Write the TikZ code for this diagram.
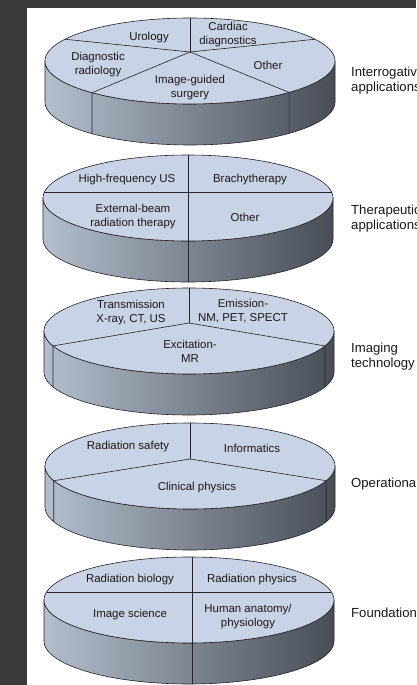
\documentclass[tikz,border=0pt]{standalone}
\usepackage{fontspec}
\setmainfont{Liberation Sans}
\definecolor{bgdark}{RGB}{58,58,58}
\definecolor{topc}{RGB}{201,211,229}
\definecolor{sideL}{RGB}{180,190,205}
\definecolor{sideR}{RGB}{72,77,86}
\definecolor{edge}{RGB}{35,35,40}
\tikzset{
  lab/.style={align=center, inner sep=0pt, font=\fontsize{11.5}{14}\selectfont, text=black!90},
  rlab/.style={anchor=west, align=left, inner sep=0pt, font=\fontsize{13.2}{15}\selectfont, text=black!90},
  pieline/.style={draw=edge, line width=0.6bp},
}
\newcommand\pdisc[2]{%
  \shadedraw[left color=sideL, right color=sideR, draw=edge, line width=0.6bp]
    plot[domain=180:360,samples=73] ({#1+145*cos(\x)},{#2-43*sin(\x)})
    -- plot[domain=360:180,samples=73] ({#1+145*cos(\x)},{#2+41-43*sin(\x)}) -- cycle;
  \filldraw[fill=topc, draw=edge, line width=0.6bp]
    plot[domain=0:360,samples=145] ({#1+145*cos(\x)},{#2-43*sin(\x)}) -- cycle;
}
\begin{document}
\begin{tikzpicture}[x=1bp,y=-1bp,line join=round]
\useasboundingbox (0,0) rectangle (416,685);
\clip (0,0) rectangle (416,685);
\fill[bgdark] (0,0) rectangle (416,685);
\fill[white] (27,8) rectangle (416,685);

% ---------- Disc 1: Interrogative applications ----------
\pdisc{190}{61}
\coordinate (d1c) at (190,52);
\coordinate (d1t) at (190,18);
\coordinate (d1ur) at ({190+145*cos(30.4)},{61-43*sin(30.4)});
\coordinate (d1ul) at ({190+145*cos(149.6)},{61-43*sin(149.6)});
\coordinate (d1ll) at ({190+145*cos(227.5)},{61-43*sin(227.5)});
\coordinate (d1llb) at ({190+145*cos(227.5)},{61+41-43*sin(227.5)});
\coordinate (d1lr) at ({190+145*cos(313.1)},{61-43*sin(313.1)});
\coordinate (d1lrb) at ({190+145*cos(313.1)},{61+41-43*sin(313.1)});
\draw[pieline] (d1c) -- (d1t);
\draw[pieline] (d1c) -- (d1ur);
\draw[pieline] (d1c) -- (d1ul);
\draw[pieline] (d1c) -- (d1ll) -- (d1llb);
\draw[pieline] (d1c) -- (d1lr) -- (d1lrb);
\node[lab] (uro) at (149,38) {Urology};
\node[lab] (card) at (228,35) {Cardiac\\diagnostics};
\node[lab] (diag) at (98,65) {Diagnostic\\radiology};
\node[lab] (oth1) at (268,65) {Other};
\node[lab] (igs) at (190,88) {Image-guided\\surgery};
\node[rlab] (interr) at (351,80.5) {Interrogative\\applications};

% ---------- Disc 2: Therapeutic applications ----------
\pdisc{188}{198}
\coordinate (d2t) at (188,155);
\coordinate (d2b) at (188,282);
\coordinate (d2l) at ({188-145*cos(8)},192);
\coordinate (d2r) at ({188+145*cos(8)},192);
\draw[pieline] (d2t) -- (d2b);
\draw[pieline] (d2l) -- (d2r);
\node[lab] (hfus) at (127,180) {High-frequency US};
\node[lab] (brachy) at (250,180) {Brachytherapy};
\node[lab] (ebrt) at (133,217) {External-beam\\radiation therapy};
\node[lab] (oth2) at (245,217) {Other};
\node[rlab] (thera) at (351,219) {Therapeutic\\applications};

% ---------- Disc 3: Imaging technology ----------
\pdisc{189}{331}
\coordinate (d3c) at (189,323);
\coordinate (d3t) at (189,288);
\coordinate (d3l) at ({189+145*cos(200.3)},{331-43*sin(200.3)});
\coordinate (d3lb) at ({189+145*cos(200.3)},{331+41-43*sin(200.3)});
\coordinate (d3r) at ({189+145*cos(339.7)},{331-43*sin(339.7)});
\coordinate (d3rb) at ({189+145*cos(339.7)},{331+41-43*sin(339.7)});
\draw[pieline] (d3c) -- (d3t);
\draw[pieline] (d3c) -- (d3l) -- (d3lb);
\draw[pieline] (d3c) -- (d3r) -- (d3rb);
\node[lab] (trans) at (131,313) {Transmission\\X-ray, CT, US};
\node[lab] (emis) at (243,311) {Emission-\\NM, PET, SPECT};
\node[lab] (excit) at (190,351) {Excitation-\\MR};
\node[rlab] (imtech) at (351,357) {Imaging\\technology};

% ---------- Disc 4: Operational ----------
\pdisc{190}{466}
\coordinate (d4c) at (190,459);
\coordinate (d4t) at (190,423);
\coordinate (d4l) at ({190+145*cos(200)},{466-43*sin(200)});
\coordinate (d4lb) at ({190+145*cos(200)},{466+41-43*sin(200)});
\coordinate (d4r) at ({190+145*cos(340)},{466-43*sin(340)});
\coordinate (d4rb) at ({190+145*cos(340)},{466+41-43*sin(340)});
\draw[pieline] (d4c) -- (d4t);
\draw[pieline] (d4c) -- (d4l) -- (d4lb);
\draw[pieline] (d4c) -- (d4r) -- (d4rb);
\node[lab] (radsaf) at (128,447) {Radiation safety};
\node[lab] (inform) at (252,448) {Informatics};
\node[lab] (clin) at (197,488) {Clinical physics};
\node[rlab] (oper) at (351,484) {Operational};

% ---------- Disc 5: Foundational ----------
\pdisc{189}{600}
\coordinate (d5t) at (192,557);
\coordinate (d5b) at (192,684);
\coordinate (d5l) at ({189-145*cos(10.7)},592);
\coordinate (d5r) at ({189+145*cos(10.7)},592);
\draw[pieline] (d5t) -- (d5b);
\draw[pieline] (d5l) -- (d5r);
\node[lab] (radbio) at (130,580) {Radiation biology};
\node[lab] (radphys) at (252,580) {Radiation physics};
\node[lab] (imsci) at (130,615) {Image science};
\node[lab] (anat) at (248,617) {Human anatomy/\\physiology};
\node[rlab] (found) at (351,613) {Foundational};
\end{tikzpicture}
\end{document}
